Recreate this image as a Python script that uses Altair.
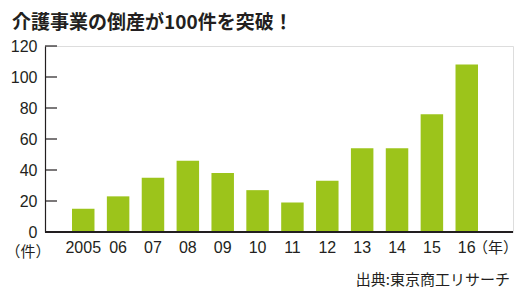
import altair as alt
import pandas as pd

years = ["2005", "06", "07", "08", "09", "10", "11", "12", "13", "14", "15", "16"]
counts = [15, 23, 35, 46, 38, 27, 19, 33, 54, 54, 76, 108]
y_ticks = [0, 20, 40, 60, 80, 100, 120]

title_text = "介護事業の倒産が100件を突破！"
y_unit = "（件）"
x_unit = "（年）"
source_text = "出典:東京商工リサーチ"

df = pd.DataFrame({"year": years, "count": counts})
ticks_df = pd.DataFrame({"v": y_ticks})

W, H = 468, 186
FONT = "Liberation Sans"
CJK = "Noto Sans CJK JP"
TXT = "#231f20"

x_enc = alt.X(
    "year:N", sort=years,
    scale=alt.Scale(range=[27, 433], paddingInner=0.355, paddingOuter=0),
    axis=alt.Axis(title=x_unit, domain=False, ticks=False, labelAngle=0,
                  labelFont=FONT, labelFontSize=16, labelColor=TXT, labelPadding=7,
                  titleFont=CJK, titleFontSize=15, titleFontWeight=400, titleColor=TXT,
                  titleAngle=0, titleAlign="center", titleBaseline="middle",
                  titleX=450, titleY=15),
)
y_scale = alt.Scale(domain=[0, 120], nice=False)
y_axis = alt.Axis(title=y_unit, values=y_ticks, ticks=False, grid=False, labelOverlap=False,
                  domainColor=TXT, domainWidth=1.2,
                  labelFont=FONT, labelFontSize=16, labelColor=TXT, labelPadding=8,
                  titleFont=CJK, titleFontSize=15, titleFontWeight=400, titleColor=TXT,
                  titleAngle=0, titleAlign="left", titleBaseline="middle",
                  titleX=-40, titleY=205)

bars = alt.Chart(df).mark_bar(color="#9cc41b").encode(
    x=x_enc, y=alt.Y("count:Q", scale=y_scale, axis=y_axis)
)

ticks = alt.Chart(ticks_df).mark_rule(color=TXT, strokeWidth=1.2).encode(
    y=alt.Y("v:Q", scale=y_scale, axis=y_axis), x=alt.value(0), x2=alt.value(12)
)

baseline = alt.Chart(df).mark_rule(color=TXT, strokeWidth=1.2).encode(
    x=alt.value(0), x2=alt.value(W), y=alt.value(H)
)

source = alt.Chart(pd.DataFrame({"t": [source_text]})).mark_text(
    font=CJK, fontSize=15, fontWeight=400, color=TXT, align="right", baseline="middle"
).encode(x=alt.value(W - 3), y=alt.value(H + 48), text="t:N")

chart = alt.layer(bars, ticks, baseline, source).properties(
    width=W, height=H,
    title=alt.TitleParams(title_text, anchor="start", frame="bounds", font=CJK, fontSize=19,
                          fontWeight="bold", color=TXT, dx=7, offset=5),
    autosize=alt.AutoSizeParams(type="none"),
    padding={"left": 45, "top": 46, "right": 12, "bottom": 61},
).configure_view(stroke=None).configure(background="white")

chart.save("out.html", embed_options={"renderer": "svg", "actions": False})
